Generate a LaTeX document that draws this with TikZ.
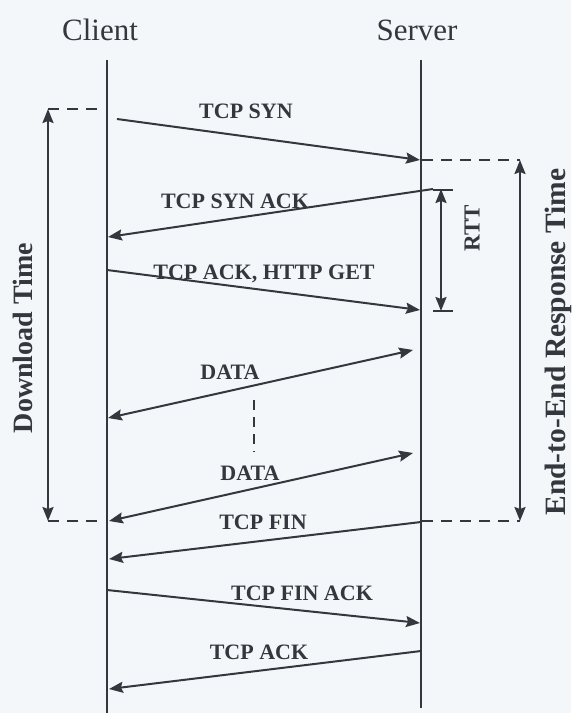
\documentclass[tikz,border=0pt]{standalone}
\usepackage{fontspec}
\setmainfont{Liberation Serif}
\usetikzlibrary{arrows.meta}
\definecolor{ink}{HTML}{33383E}
\definecolor{paper}{HTML}{F4F7F9}
\begin{document}
\begin{tikzpicture}[x=1pt,y=-1pt,
  tip/.tip={Stealth[length=14pt,width=11pt,inset=2pt]},
  lifeline/.style={draw=ink,line width=2pt},
  msg/.style={draw=ink,line width=2pt,-tip},
  span/.style={draw=ink,line width=2pt,tip-tip},
  guide/.style={draw=ink,line width=1.8pt,dash pattern=on 11pt off 8pt},
  msglabel/.style={text=ink,font=\bfseries\fontsize{22}{24}\selectfont,inner sep=0pt,anchor=base},
  sidelabel/.style={text=ink,font=\bfseries\fontsize{28}{30}\selectfont,inner sep=0pt,rotate=90},
  party/.style={text=ink,font=\fontsize{31}{34}\selectfont,inner sep=0pt,anchor=base}]

% page and background
\fill[paper] (0,0) rectangle (571,713);
\useasboundingbox (0,0) rectangle (571,713);

% parties and their lifelines
\node[party] (client) at (100,40) {Client};
\node[party] (server) at (417,40) {Server};
\coordinate (cTop) at (107,60);
\coordinate (cBot) at (107,713);
\coordinate (sTop) at (421,60);
\coordinate (sBot) at (421,708);
\draw[lifeline] (cTop) -- (cBot);
\draw[lifeline] (sTop) -- (sBot);

% message end points
\coordinate (synA) at (117,119);
\coordinate (synB) at (420,160);
\coordinate (sackA) at (433,189);
\coordinate (sackB) at (108,237);
\coordinate (getA) at (107,270);
\coordinate (getB) at (420,310);
\coordinate (d1A) at (108,418);
\coordinate (d1B) at (413,350);
\coordinate (d2A) at (109,521);
\coordinate (d2B) at (413,453);
\coordinate (finA) at (421,522);
\coordinate (finB) at (109,559);
\coordinate (faA) at (107,590);
\coordinate (faB) at (420,623);
\coordinate (ackA) at (421,651);
\coordinate (ackB) at (109,689);

% message labels
\node[msglabel] (lsyn) at (246,118) {TCP SYN};
\node[msglabel] (lsack) at (235,208) {TCP SYN ACK};
\node[msglabel] (lget) at (264,279) {TCP ACK, HTTP GET};
\node[msglabel] (ld1) at (230,379) {DATA};
\node[msglabel] (ld2) at (250,480) {DATA};
\node[msglabel] (lfin) at (263,529) {TCP FIN};
\node[msglabel] (lfa) at (302,600) {TCP FIN ACK};
\node[msglabel] (lack) at (259,659) {TCP ACK};

% messages
\draw[msg] (synA) -- (synB);
\draw[msg] (sackA) -- (sackB);
\draw[msg] (getA) -- (getB);
\draw[span] (d1A) -- (d1B);
\draw[span] (d2A) -- (d2B);
\draw[msg] (finA) -- (finB);
\draw[msg] (faA) -- (faB);
\draw[msg] (ackA) -- (ackB);

% elided data transfers
\coordinate (gapT) at (254,400);
\coordinate (gapB) at (254,452);
\draw[draw=ink,line width=1.8pt,dash pattern=on 10pt off 7pt] (gapT) -- (gapB);

% download time
\coordinate (dlT) at (48,109);
\coordinate (dlB) at (48,521);
\coordinate (dlTc) at (101,109);
\coordinate (dlBc) at (101,521);
\draw[guide] (dlT) -- (dlTc);
\draw[guide] (dlB) -- (dlBc);
\draw[span] (dlB) -- (dlT);
\node[sidelabel] (ldl) at (23,338) {Download Time};

% end-to-end response time
\coordinate (rtT) at (520,160);
\coordinate (rtB) at (520,521);
\coordinate (rtTs) at (422,160);
\coordinate (rtBs) at (422,521);
\draw[guide] (rtTs) -- (rtT);
\draw[guide] (rtBs) -- (rtB);
\draw[span] (rtT) -- (rtB);
\node[sidelabel,font=\bfseries\fontsize{29.5}{31}\selectfont] (lrt) at (558,342) {End-to-End Response Time};

% round trip time
\coordinate (rttT) at (441,189);
\coordinate (rttB) at (441,311);
\coordinate (rttTa) at (433,190);
\coordinate (rttTb) at (453,190);
\coordinate (rttBa) at (433,311);
\coordinate (rttBb) at (453,311);
\draw[draw=ink,line width=1.8pt] (rttTa) -- (rttTb);
\draw[draw=ink,line width=1.8pt] (rttBa) -- (rttBb);
\draw[span] (rttT) -- (rttB);
\node[sidelabel,font=\bfseries\fontsize{23}{25}\selectfont] (lrtt) at (472,228) {RTT};
\end{tikzpicture}
\end{document}
